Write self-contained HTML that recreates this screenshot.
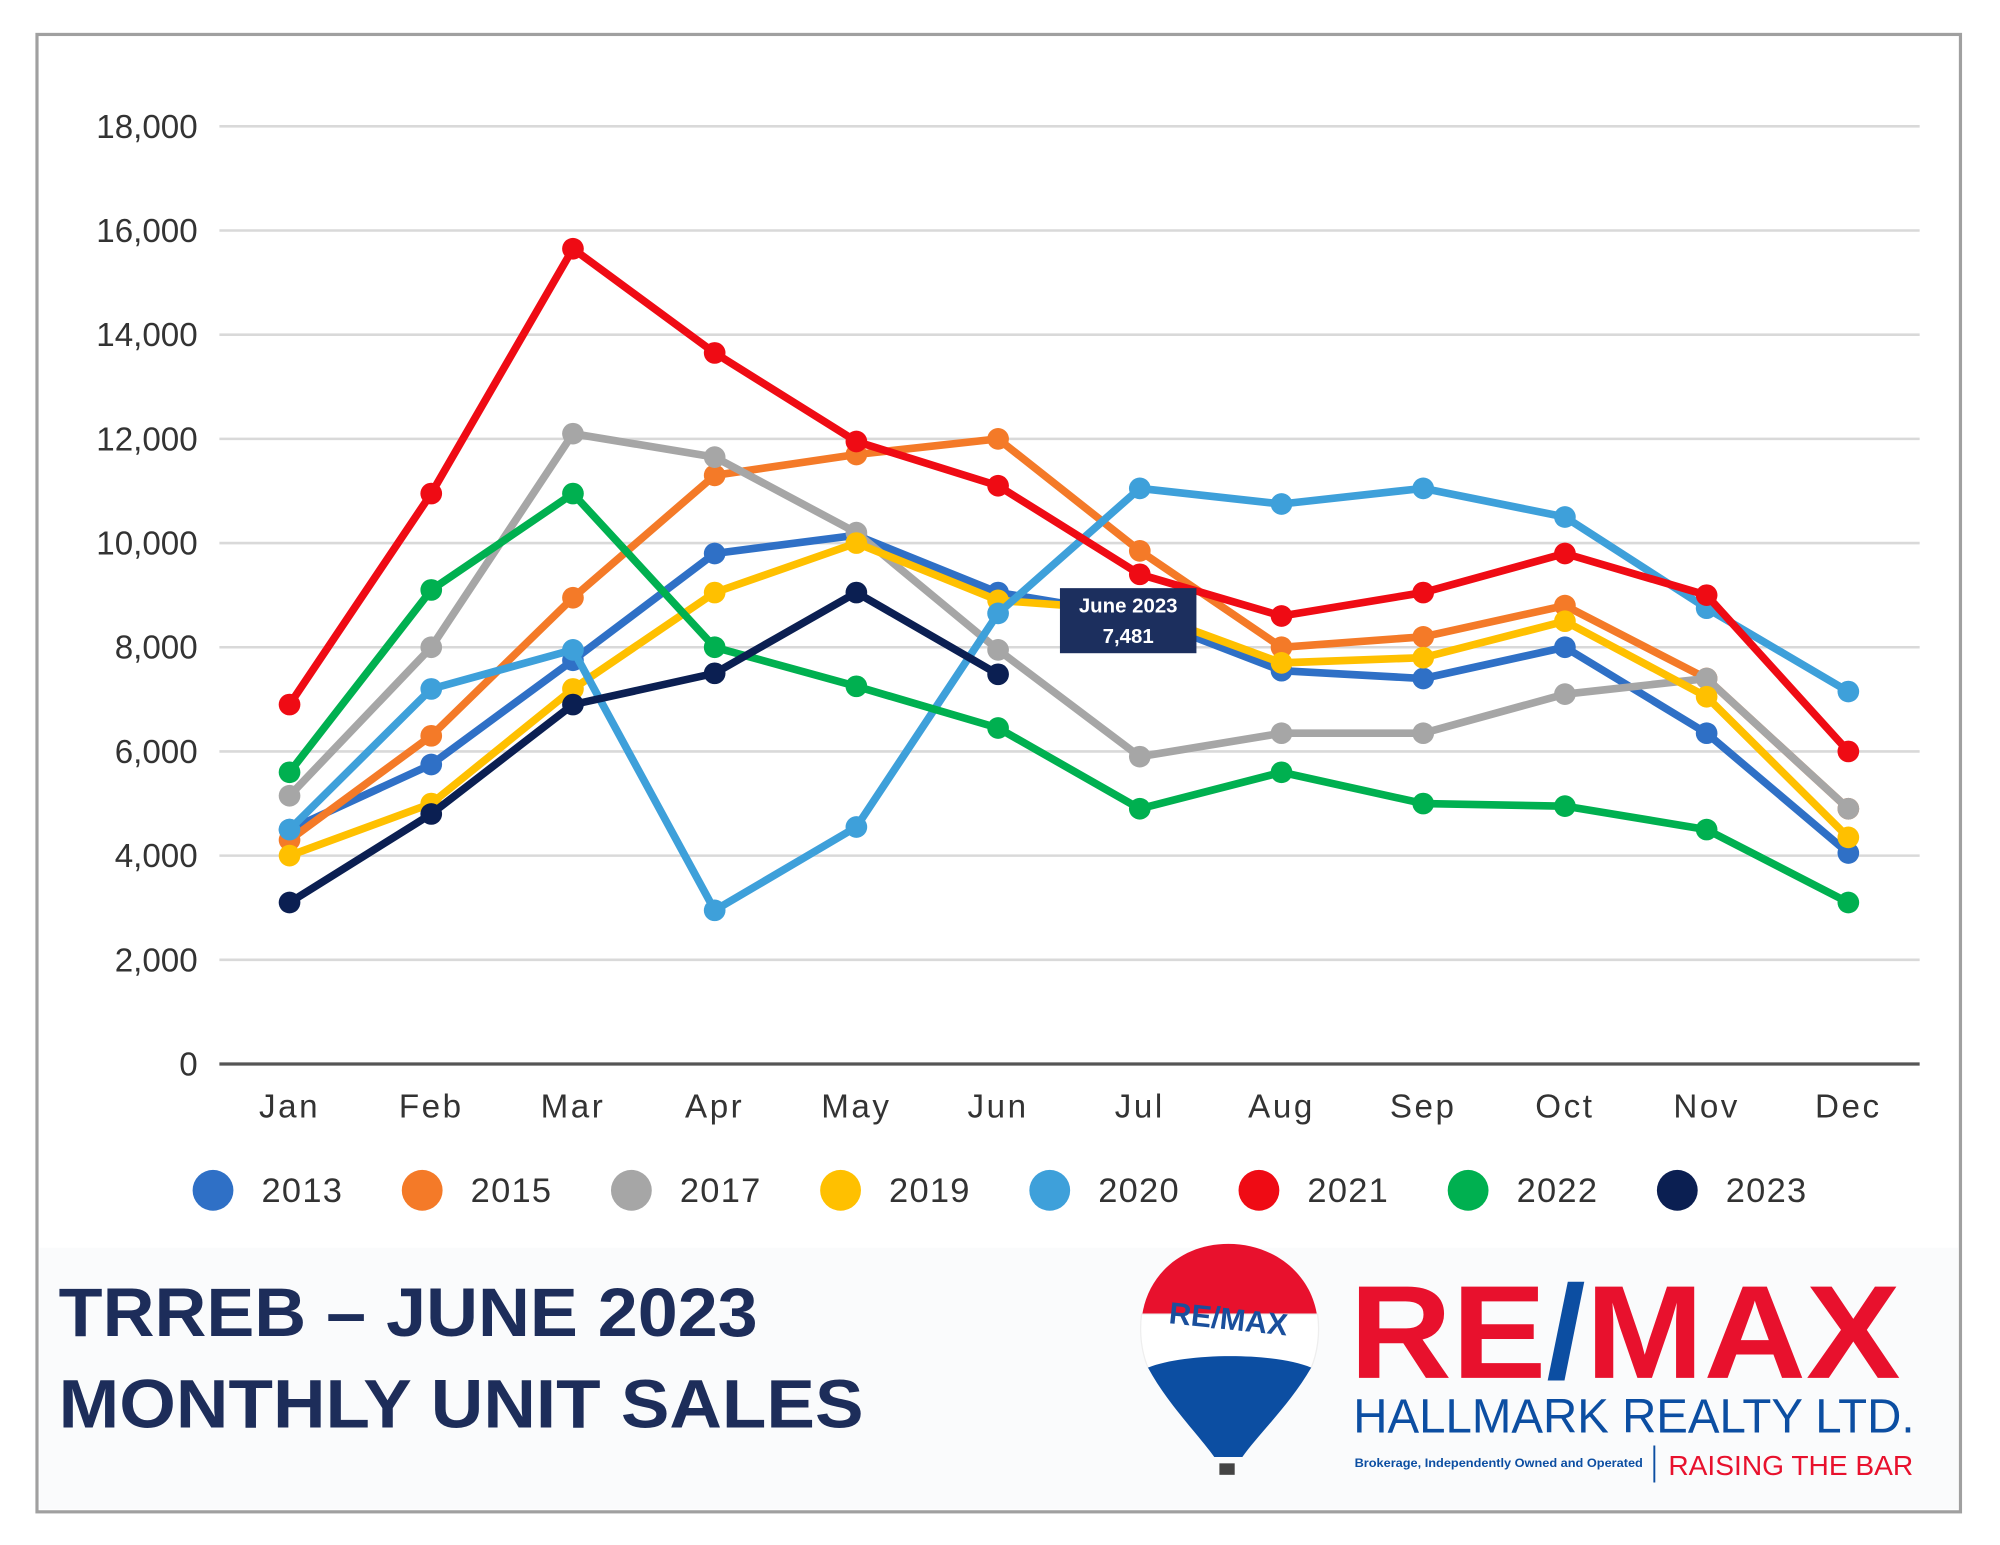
<!DOCTYPE html>
<html><head><meta charset="utf-8">
<style>
html,body{margin:0;padding:0;background:#fff;}
svg{display:block;}
text{font-family:"Liberation Sans",sans-serif;}
</style></head>
<body>
<svg id="chart" width="2000" height="1545" viewBox="0 0 1568 1211" preserveAspectRatio="none" xmlns="http://www.w3.org/2000/svg">
  <rect x="0" y="0" width="1568" height="1211" fill="#ffffff"/>
  <rect x="31" y="978" width="1504" height="205" fill="#fafbfc"/>
  <rect x="29" y="27" width="1508" height="1158" fill="none" stroke="#a0a0a0" stroke-width="2.5"/>
  <g id="grid"></g>
  <g id="yticks"></g>
  <g id="xticks"></g>
  <g id="series"></g>
  <g id="legend"></g>
  <g>
    <rect x="831" y="461" width="107" height="51" fill="#1c2f5e"/>
    <text x="884.5" y="480" text-anchor="middle" font-size="16" font-weight="bold" fill="#fff">June 2023</text>
    <text x="884.5" y="504" text-anchor="middle" font-size="16" font-weight="bold" fill="#fff">7,481</text>
  </g>
  <text x="46" y="1047" font-size="54" font-weight="bold" fill="#1d2d5a" textLength="548" lengthAdjust="spacingAndGlyphs">TRREB – JUNE 2023</text>
  <text x="46" y="1119" font-size="54" font-weight="bold" fill="#1d2d5a" textLength="631" lengthAdjust="spacingAndGlyphs">MONTHLY UNIT SALES</text>
  <g>
    <path d="M963,975 C1000,975 1030,1000 1033,1035 L895,1035 C898,1000 926,975 963,975 Z" fill="#e8112d"/>
    <path d="M895,1030 C893,1045 895,1060 900,1072 L1028,1072 C1033,1060 1035,1045 1033,1030 Z" fill="#ffffff" stroke="#eee"/>
    <path d="M900,1072 C915,1100 940,1125 952,1142 L974,1142 C986,1125 1012,1100 1028,1072 C1000,1060 930,1060 900,1072 Z" fill="#0c4ea2"/>
    <text x="963" y="1042" text-anchor="middle" font-size="24" font-weight="bold" fill="#1a4f9c" transform="rotate(6 963 1035)">RE/MAX</text>
    <rect x="956" y="1147" width="12" height="9" fill="#444"/>
  </g>
  <text x="1058" y="1080" font-size="104" font-weight="bold" fill="#e8112d" textLength="432" lengthAdjust="spacingAndGlyphs">RE<tspan fill="#0c4ea2">/</tspan>MAX</text>
  <text x="1061" y="1123" font-size="38" fill="#0c4ea2" textLength="440" lengthAdjust="spacingAndGlyphs">HALLMARK REALTY LTD.</text>
  <text x="1062" y="1150" font-size="9.5" font-weight="bold" fill="#0c4ea2" textLength="226" lengthAdjust="spacingAndGlyphs">Brokerage, Independently Owned and Operated</text>
  <line x1="1297" y1="1133" x2="1297" y2="1162" stroke="#0c4ea2" stroke-width="1.5"/>
  <text x="1308" y="1156" font-size="22" fill="#e8112d" textLength="192" lengthAdjust="spacingAndGlyphs">RAISING THE BAR</text>
</svg>
<script>
const months = ["Jan","Feb","Mar","Apr","May","Jun","Jul","Aug","Sep","Oct","Nov","Dec"];
const yTicks = [0,2000,4000,6000,8000,10000,12000,14000,16000,18000];
const years = ["2013","2015","2017","2019","2020","2021","2022","2023"];
const colors = ["#2f70c6","#f47a28","#a6a6a6","#ffc000","#3ea0da","#ef0b14","#00b050","#0b1f52"];
const s2013 = [4500,5750,7750,9800,10150,9050,8600,7550,7400,8000,6350,4050];
const s2015 = [4300,6300,8950,11300,11700,12000,9850,8000,8200,8800,7400,4900];
const s2017 = [5150,8000,12100,11650,10200,7950,5900,6350,6350,7100,7400,4900];
const s2019 = [4000,5000,7200,9050,10000,8900,8700,7700,7800,8500,7050,4350];
const s2020 = [4500,7200,7950,2950,4550,8650,11050,10750,11050,10500,8750,7150];
const s2021 = [6900,10950,15650,13650,11950,11100,9400,8600,9050,9800,9000,6000];
const s2022 = [5600,9100,10950,8000,7250,6450,4900,5600,5000,4950,4500,3100];
const s2023 = [3100,4800,6900,7500,9050,7481];
const allSeries = [s2013,s2015,s2017,s2019,s2020,s2021,s2022,s2023];

const NS = "http://www.w3.org/2000/svg";
function xs(i){ return 227 + i*111.1; }
function ys(v){ return 834 - v*(735/18000); }
function mk(tag, attrs, parent){ const e=document.createElementNS(NS,tag); for(const k in attrs) e.setAttribute(k,attrs[k]); parent.appendChild(e); return e; }

const grid=document.getElementById('grid'), yt=document.getElementById('yticks'), xt=document.getElementById('xticks');
yTicks.forEach(t=>{
  const l=mk('line',{x1:172,x2:1505,y1:ys(t),y2:ys(t),stroke:t===0?'#555':'#d9d9d9','stroke-width':t===0?2.5:2},grid);
  
  
  const tx=mk('text',{x:155,y:ys(t)+9,'text-anchor':'end','font-size':26,fill:'#333'},yt);
  tx.textContent=t.toLocaleString('en-US');
  
  
});
months.forEach((m,i)=>{
  const tx=mk('text',{x:xs(i),y:876,'text-anchor':'middle','font-size':26,fill:'#333','letter-spacing':2},xt);
  tx.textContent=m;
  
  
});
const sg=document.getElementById('series');
allSeries.forEach((s,k)=>{
  const g=mk('g',{},sg);
  
  
  const pts=s.map((v,i)=>xs(i)+','+ys(v)).join(' ');
  const pl=mk('polyline',{points:pts,fill:'none',stroke:colors[k],'stroke-width':6,'stroke-linejoin':'round','stroke-linecap':'round'},g);
  
  
  s.forEach((v,i)=>{
    const c=mk('circle',{cx:xs(i),cy:ys(v),r:8.5,fill:colors[k]},g);
    
    
  });
});
const lg=document.getElementById('legend');
years.forEach((y,k)=>{
  const cx=167+k*164;
  const g=mk('g',{},lg);
  
  
  mk('circle',{cx:cx,cy:933,r:16,fill:colors[k]},g);
  const t=mk('text',{x:cx+38,y:942,'font-size':27,fill:'#333','letter-spacing':1},g);
  t.textContent=y;
});
</script>
</body></html>
